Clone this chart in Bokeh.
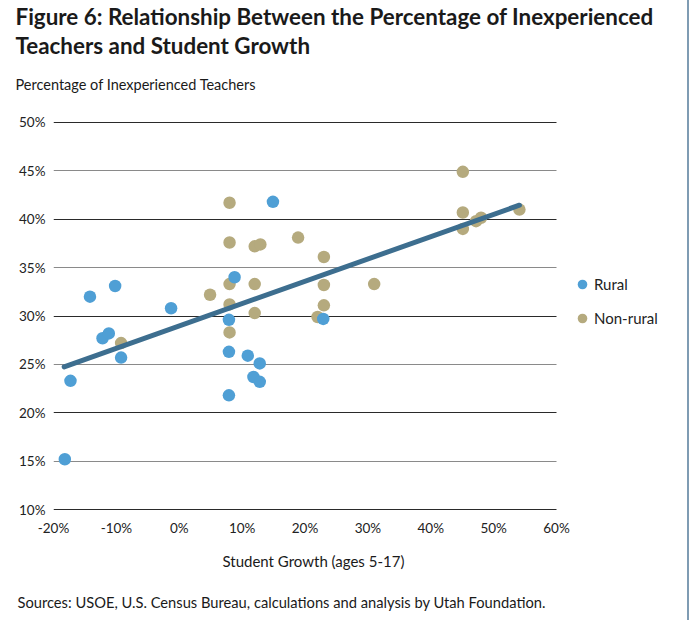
from bokeh.plotting import figure
from bokeh.models import (Legend, LegendItem, FixedTicker, Grid, Range1d, Title)
from bokeh.embed import file_html
from bokeh.resources import INLINE

# ---------------- data ----------------
rural_growth = [-14.2, -10.2, -1.3, -12.2, -11.2, -9.25, -17.3, -18.2,
                14.9, 8.8, 7.9, 22.9, 7.9, 10.9, 12.8, 11.8, 12.8, 7.9]
rural_inexp = [32.0, 33.1, 30.8, 27.7, 28.2, 25.7, 23.3, 15.2,
               41.8, 34.0, 29.6, 29.7, 26.3, 25.9, 25.1, 23.7, 23.2, 21.8]

nonrural_growth = [-9.25, 8.0, 8.0, 12.0, 12.9, 18.9, 23.0, 8.0, 12.0, 23.0, 4.9,
                   8.0, 23.0, 12.0, 22.0, 8.0, 31.0,
                   45.1, 45.1, 45.1, 47.2, 48.0, 54.1]
nonrural_inexp = [27.2, 41.7, 37.6, 37.2, 37.4, 38.1, 36.1, 33.3, 33.3, 33.2, 32.2,
                  31.2, 31.1, 30.3, 29.9, 28.3, 33.3,
                  44.9, 40.7, 39.0, 39.8, 40.15, 41.0]

trend_growth = [-18.3, 54.1]
trend_inexp = [24.75, 41.45]

x_ticks = [-20, -10, 0, 10, 20, 30, 40, 50, 60]
x_tick_labels = ["-20%", "-10%", "0%", "10%", "20%", "30%", "40%", "50%", "60%"]
y_ticks = [10, 15, 20, 25, 30, 35, 40, 45, 50]
y_tick_labels = ["10%", "15%", "20%", "25%", "30%", "35%", "40%", "45%", "50%"]
y_dark_grid = [10, 20, 30, 40, 50]
y_light_grid = [15, 25, 35, 45]

title_lines = ["Figure 6: Relationship Between the Percentage of Inexperienced",
               "Teachers and Student Growth"]
y_title = "Percentage of Inexperienced Teachers"
x_title = "Student Growth (ages 5-17)"
source_text = "Sources: USOE, U.S. Census Bureau, calculations and analysis by Utah Foundation."

BLUE = "#4F9FD5"
TAN = "#B5AA7E"
TREND = "#3D6E8F"
FONT = "Lato"
TXT = "#1a1a1a"

# the frame reaches the right edge so that the legend sits inside it;
# grid lines are limited to the -20..60 span of the x axis
x_lo, x_hi = x_ticks[0], x_ticks[-1]
p = figure(width=689, height=620, output_backend="svg", toolbar_location=None,
           x_range=Range1d(x_lo, 81.15), y_range=Range1d(9.9, 50.1),
           min_border_left=53, min_border_right=0,
           min_border_top=0, min_border_bottom=109)
p.styles = {"border-right": "2px solid #7F9CB3"}
p.outline_line_color = None

p.xgrid.visible = False
p.ygrid.ticker = FixedTicker(ticks=y_dark_grid)
p.ygrid.grid_line_color = "#2a2a2a"
p.ygrid.grid_line_width = 1.2
p.ygrid.cross_bounds = (x_lo, x_hi)
p.add_layout(Grid(dimension=1, ticker=FixedTicker(ticks=y_light_grid),
                  grid_line_color="#8a8a8a", grid_line_width=1.2,
                  cross_bounds=(x_lo, x_hi)))

for ax in (p.xaxis[0], p.yaxis[0]):
    ax.axis_line_color = None
    ax.major_tick_line_color = None
    ax.minor_tick_line_color = None
    ax.major_tick_out = 0
    ax.minor_tick_out = 0
    ax.major_label_text_font = FONT
    ax.major_label_text_font_size = "13.5px"
    ax.major_label_text_color = "#222222"
p.xaxis.ticker = FixedTicker(ticks=x_ticks)
p.yaxis.ticker = FixedTicker(ticks=y_ticks)
p.xaxis.major_label_overrides = {t: l for t, l in zip(x_ticks, x_tick_labels)}
p.yaxis.major_label_overrides = {t: l for t, l in zip(y_ticks, y_tick_labels)}
p.xaxis.major_label_standoff = 9
p.yaxis.major_label_standoff = 8

nr = p.scatter(nonrural_growth, nonrural_inexp, size=12.5, color=TAN, line_color=None)
ru = p.scatter(rural_growth, rural_inexp, size=12.5, color=BLUE, line_color=None)
p.line(trend_growth, trend_inexp, line_color=TREND, line_width=5, line_cap="round")

legend = Legend(items=[LegendItem(label="Rural", renderers=[ru]),
                       LegendItem(label="Non-rural", renderers=[nr])],
                location=(517, 180), orientation="vertical",
                background_fill_alpha=0, border_line_color=None,
                padding=0, margin=0, glyph_width=24, glyph_height=24,
                label_standoff=-1, spacing=10, label_height=24,
                label_text_font=FONT, label_text_font_size="15px",
                label_text_color="#222222")
p.add_layout(legend, "center")


def title(txt, size, standoff, offset=-38, bold=False, valign="bottom"):
    return Title(text=txt, align="left", offset=offset, text_font=FONT,
                 text_font_size=size, text_font_style="bold" if bold else "normal",
                 text_color=TXT, standoff=standoff, vertical_align=valign)


# above the frame (first added = nearest the frame); " " titles are spacers
p.add_layout(title(" ", "1px", 26), "above")
p.add_layout(title(y_title, "14.5px", 0), "above")
p.add_layout(title(" ", "1px", 11.4), "above")
p.add_layout(title(title_lines[1], "22.4px", 0, bold=True), "above")
p.add_layout(title(title_lines[0], "22.4px", 0, bold=True), "above")

# below the x axis
p.add_layout(title(x_title, "15px", 26, offset=169, valign="top"), "below")
p.add_layout(title(source_text, "14.7px", 16, offset=-36, valign="top"), "below")

open("out.html", "w").write(file_html(p, INLINE))
